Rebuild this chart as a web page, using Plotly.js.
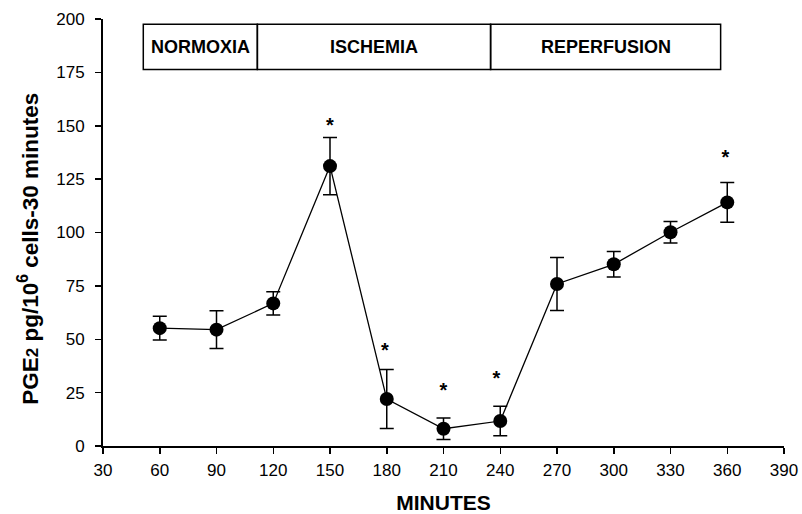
<!DOCTYPE html>
<html>
<head>
<meta charset="utf-8">
<script src="https://cdn.plot.ly/plotly-3.0.1.min.js"></script>
<style>html,body{margin:0;padding:0;background:#fff;}#chart{width:802px;height:514px;}</style>
</head>
<body>
<div id="chart"></div>
<script>
// Data
const minutes = [60, 90, 120, 150, 180, 210, 240, 270, 300, 330, 360];
const pge2 = [55.2, 54.5, 66.8, 131.1, 22.0, 8.1, 11.7, 75.9, 85.1, 100.1, 114.1];
const pge2Err = [5.6, 8.8, 5.5, 13.4, 13.8, 5.0, 6.9, 12.4, 6.0, 5.0, 9.3];

// Significance markers
const starX = [150, 179, 210, 238, 359];
const starY = [149.6, 44.2, 25.5, 31, 134.2];

// Phase boxes
const phaseNames = ["NORMOXIA", "ISCHEMIA", "REPERFUSION"];
const phaseEdges = [51.3, 111.6, 234.9, 356.5];
const phaseBoxY = [176.4, 197.5];

const xTicks = [30, 60, 90, 120, 150, 180, 210, 240, 270, 300, 330, 360, 390];
const yTicks = [0, 25, 50, 75, 100, 125, 150, 175, 200];

const yTitle = "PGE<span style=\"font-size:17px\">2</span> pg/10<sup>6</sup> cells-30 minutes";
const xTitle = "MINUTES";

const font = "Arial, 'Liberation Sans', sans-serif";

const shapes = [];
const annotations = [];
for (let i = 0; i < phaseNames.length; i++) {
  shapes.push({
    type: "rect", xref: "x", yref: "y",
    x0: phaseEdges[i], x1: phaseEdges[i + 1],
    y0: phaseBoxY[0], y1: phaseBoxY[1],
    line: {color: "#000", width: 1.5}, fillcolor: "rgba(0,0,0,0)"
  });
  annotations.push({
    xref: "x", yref: "y",
    x: (phaseEdges[i] + phaseEdges[i + 1]) / 2,
    y: (phaseBoxY[0] + phaseBoxY[1]) / 2,
    text: phaseNames[i], showarrow: false,
    font: {family: font, size: 18, color: "#000", weight: "bold"}
  });
}
// y-axis title placed as rotated annotation (reference is offset below centre)
annotations.push({
  xref: "paper", yref: "paper", x: -0.110, y: 0.462,
  xanchor: "center", yanchor: "middle", textangle: -90,
  text: yTitle, showarrow: false,
  font: {family: font, size: 22.5, color: "#000", weight: "bold"}
});

const traces = [
  {
    x: minutes, y: pge2, type: "scatter", mode: "lines+markers",
    line: {color: "#000", width: 1.3},
    marker: {color: "#000", size: 14},
    error_y: {type: "data", array: pge2Err, visible: true, color: "#000", thickness: 1.5, width: 7},
    showlegend: false, hoverinfo: "skip"
  },
  {
    x: starX, y: starY, type: "scatter", mode: "text",
    text: starX.map(() => "*"), textposition: "middle center",
    textfont: {family: font, size: 20, color: "#000", weight: "bold"},
    showlegend: false, hoverinfo: "skip"
  }
];

const layout = {
  width: 802, height: 514,
  margin: {l: 103, r: 18, t: 19, b: 68},
  paper_bgcolor: "#fff", plot_bgcolor: "#fff",
  showlegend: false,
  xaxis: {
    range: [30, 390], tickvals: xTicks, ticktext: xTicks.map(String),
    showgrid: false, zeroline: false, showline: true, linecolor: "#000", linewidth: 2,
    ticks: "outside", ticklen: 6, tickwidth: 1.5, tickcolor: "#000", ticklabelstandoff: 2,
    tickfont: {family: font, size: 17, color: "#000"},
    title: {text: xTitle, font: {family: font, size: 21, color: "#000", weight: "bold"}, standoff: 25}
  },
  yaxis: {
    range: [0, 200], tickvals: yTicks, ticktext: yTicks.map(String),
    showgrid: false, zeroline: false, showline: true, linecolor: "#000", linewidth: 2,
    ticks: "outside", ticklen: 6, tickwidth: 1.5, tickcolor: "#000", ticklabelstandoff: 7,
    tickfont: {family: font, size: 17, color: "#000"}
  },
  shapes: shapes,
  annotations: annotations
};

Plotly.newPlot("chart", traces, layout, {staticPlot: true, displayModeBar: false});
</script>
</body>
</html>
